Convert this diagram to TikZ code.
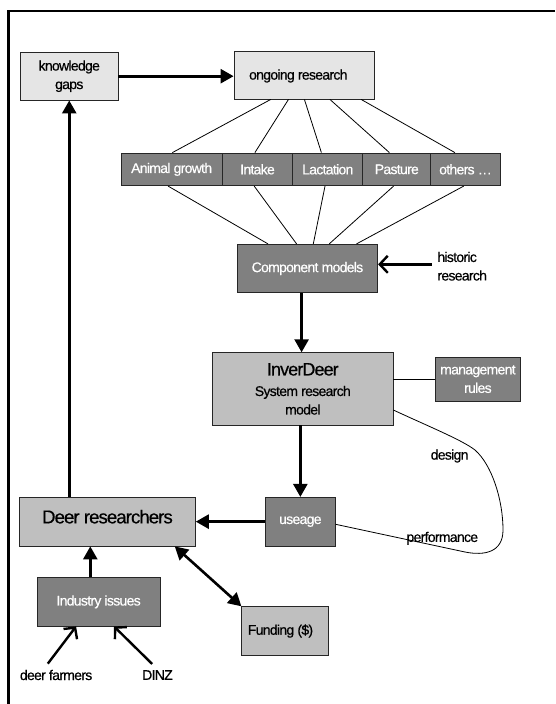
\documentclass[tikz,border=0pt]{standalone}
\usepackage{fontspec}
\setmainfont{Liberation Sans}[LetterSpace=-5.0, FakeBold=0.5]
\usetikzlibrary{arrows.meta}
\begin{document}
\begin{tikzpicture}[x=1pt,y=-1pt,
  box/.style={draw=black!85, line width=0.8pt, inner sep=0pt, align=center, font=\fontsize{14}{18.5}\selectfont},
  light/.style={box, fill=black!10},
  mid/.style={box, fill=black!25},
  dark/.style={box, fill=black!50, text=white},
  plain/.style={inner sep=0pt, align=left, font=\fontsize{14}{18.5}\selectfont},
  bigarrow/.style={line width=2.6pt, -{Triangle[length=13pt,width=14pt]}},
  bothbig/.style={line width=2.6pt, {Triangle[length=13pt,width=14pt]}-{Triangle[length=13pt,width=14pt]}},
  barbarrow/.style={line width=2.4pt, -{Straight Barb[length=8pt,width=17pt]}},
  thinline/.style={line width=0.8pt}
]
\useasboundingbox (0,0) rectangle (555,704);
\fill[white] (0,0) rectangle (555,704);
% frame
\draw[line width=2.4pt] (555,11) -- (8.5,11) -- (8.5,704);

% boxes
\node[light, minimum width=97.5pt, minimum height=47.7pt] (kg) at (69.25,76.2) {knowledge\\gaps};
\node[light, minimum width=140pt, minimum height=48pt] (ong) at (304,75) {};
\node[plain] (ongtext) at (298.3,76) {ongoing research};

\node[dark, minimum width=101.3pt, minimum height=32.7pt] (ag) at (171.65,169.35) {Animal growth};
\node[dark, minimum width=70.4pt, minimum height=32.7pt] (intake) at (257.5,169.35) {Intake};
\node[dark, minimum width=70.1pt, minimum height=32.7pt] (lact) at (327.75,169.35) {Lactation};
\node[dark, minimum width=68pt, minimum height=32.7pt] (past) at (396.8,169.35) {Pasture};
\node[dark, minimum width=69.4pt, minimum height=32.7pt] (oth) at (465.5,169.35) {others …};

\node[dark, minimum width=140.5pt, minimum height=48.4pt] (comp) at (307.45,268.5) {Component models};
\node[plain, anchor=west] (hist) at (437.2,266.2) {historic\\research};

\node[mid, minimum width=180.2pt, minimum height=72.3pt] (inv) at (302.8,388.85)
  {{\fontsize{18}{18}\selectfont InverDeer}\\[2pt]System research\\model};
\node[dark, minimum width=85pt, minimum height=43.7pt] (mgmt) at (477.9,379.15) {management\\rules};

\node[mid, minimum width=175.9pt, minimum height=48.7pt, text height=12pt, text depth=8.6pt,
  font=\fontsize{18.6}{20}\selectfont] (deer) at (107.45,521.65) {Deer researchers};
\node[dark, minimum width=69.7pt, minimum height=48.7pt] (use) at (300.35,521.65) {useage};

\node[dark, minimum width=122.8pt, minimum height=48.3pt] (ind) at (98.6,601.85) {Industry issues};
\node[mid, minimum width=86.7pt, minimum height=48.3pt] (fund) at (285.15,630.85) {};
\node[plain] (fundtext) at (280.5,631) {Funding (\$)};

\node[plain] (farm) at (56.1,675) {deer farmers};
\node[plain] (dinz) at (157.5,675) {DINZ};

\node[plain] (design) at (449.6,456) {design};
\node[plain] (perf) at (442.3,538.3) {performance};

% thin lines ongoing research -> topics
\draw[thinline] ([xshift=-33.2pt]ong.south) -- ([xshift=0.75pt]ag.north);
\draw[thinline] ([xshift=-15.5pt]ong.south) -- ([xshift=-2.6pt]intake.north);
\draw[thinline] ([xshift=0.4pt]ong.south) -- ([xshift=-6.35pt]lact.north);
\draw[thinline] ([xshift=25.9pt]ong.south) -- ([xshift=-7.4pt]past.north);
\draw[thinline] ([xshift=57.1pt]ong.south) -- ([xshift=-10.6pt]oth.north);
% topics -> component models
\draw[thinline] ([xshift=-3.55pt]ag.south) -- ([xshift=-39.45pt]comp.north);
\draw[thinline] ([xshift=-3.3pt]intake.south) -- ([xshift=-10.85pt]comp.north);
\draw[thinline] ([xshift=-2.75pt]lact.south) -- ([xshift=5.85pt]comp.north);
\draw[thinline] ([xshift=-3.2pt]past.south) -- ([xshift=21.75pt]comp.north);
\draw[thinline] ([xshift=-1.8pt]oth.south) -- ([xshift=49.05pt]comp.north);

% management rules link
\draw[thinline] (mgmt.west -| inv.east) -- (mgmt.west);

% design / performance loop
\draw[thinline] ([yshift=-21.15pt]inv.east) .. controls (430,427) and (462,440) .. (475,450)
  .. controls (492,465) and (503,500) .. (503,530)
  .. controls (503,552) and (485,556) .. (465,552)
  -- ([yshift=-2.65pt]use.east);

% thick arrows
\draw[bigarrow] (kg.east) -- (kg.east -| ong.west);
\draw[bigarrow] (kg.south |- deer.north) -- (kg.south);
\draw[bigarrow] ([xshift=-1.2pt]inv.north |- comp.south) -- ([xshift=-1.2pt]inv.north);
\draw[bigarrow] (inv.south -| use.north) -- (use.north);
\draw[bigarrow] (use.west) -- (use.west -| deer.east);
\draw[bigarrow] ([xshift=-8.3pt]ind.north) -- ([xshift=-8.3pt]ind.north |- deer.south);
\draw[bothbig] ([xshift=-21pt]deer.south east) -- (fund.north west);

% barbed arrows
\coordinate (histin) at ([shift={(-5.3pt,1.9pt)}]hist.west);
\draw[barbarrow] (histin) -- (histin -| comp.east);
\draw[barbarrow] ([shift={(-8.3pt,6pt)}]farm.north) -- ([xshift=-22.5pt]ind.south);
\draw[barbarrow] ([shift={(-5.3pt,6pt)}]dinz.north) -- ([xshift=15.4pt]ind.south);
\end{tikzpicture}
\end{document}
